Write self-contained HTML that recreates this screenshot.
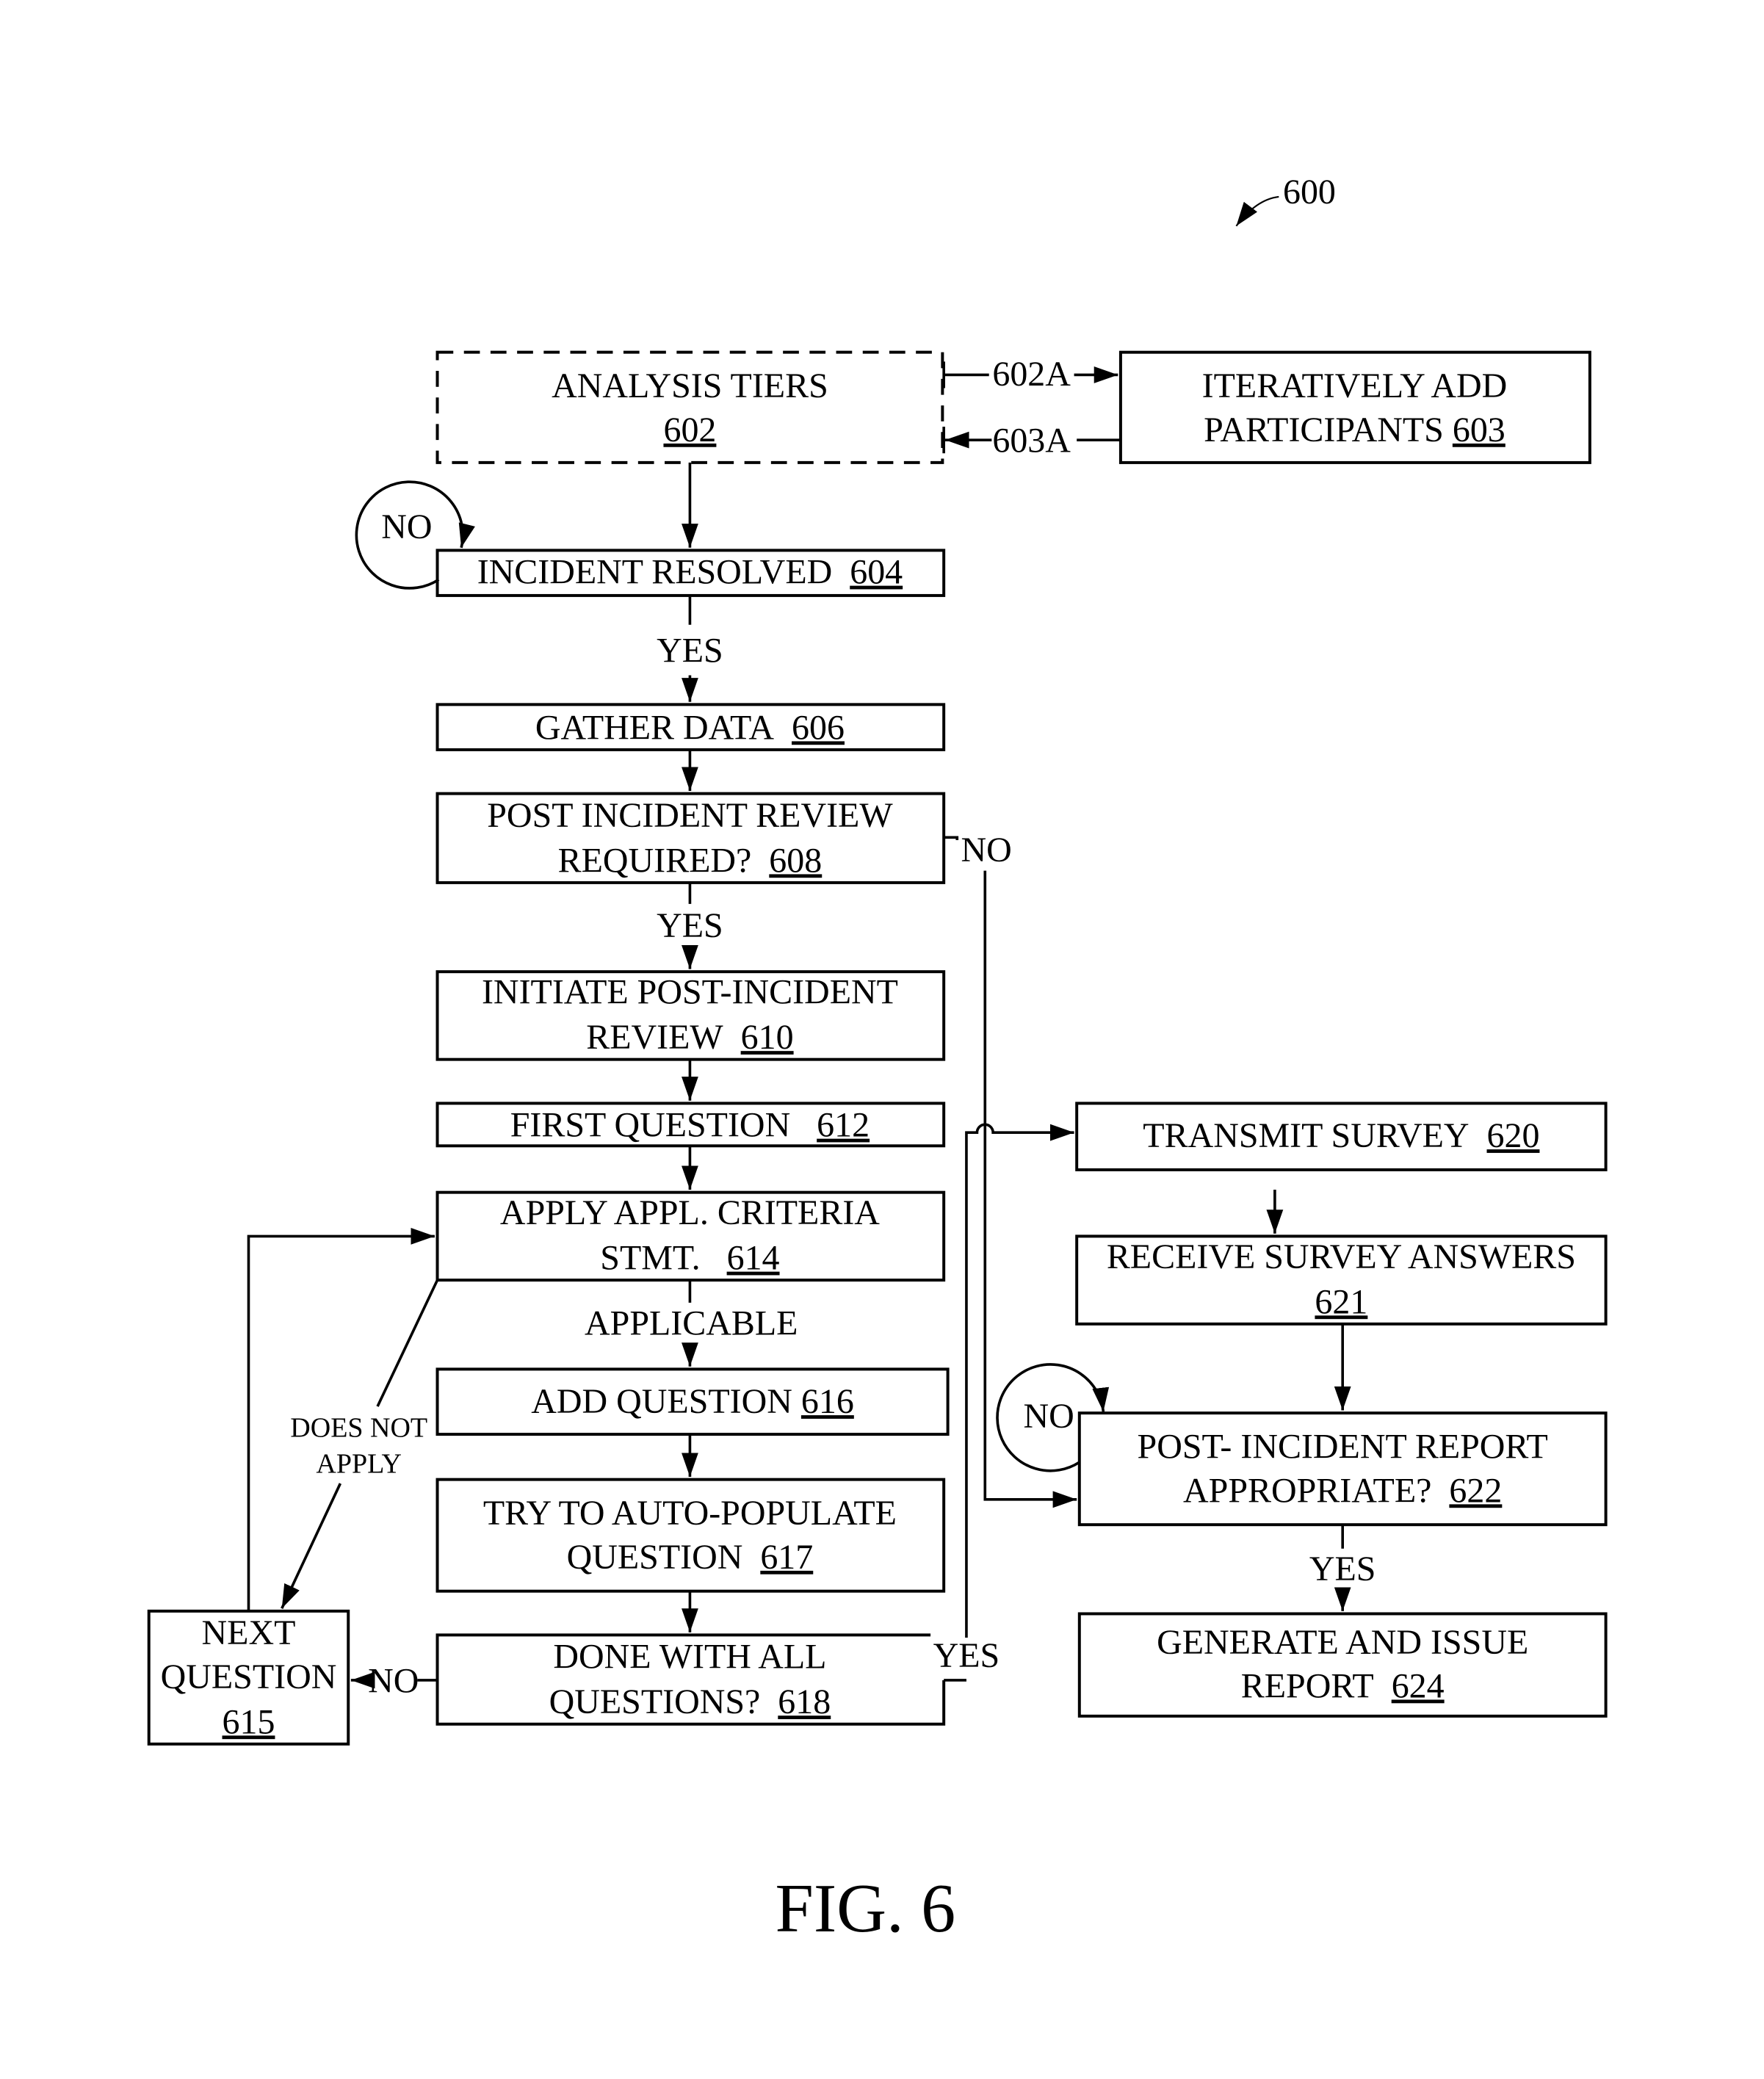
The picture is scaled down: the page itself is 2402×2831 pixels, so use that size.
<!DOCTYPE html>
<html><head><meta charset="utf-8"><style>
html,body{margin:0;padding:0;background:#fff;}
svg{display:block;}
text{font-family:"Liberation Serif",serif;font-size:26.5px;fill:#000;}
</style></head><body>
<svg width="2402" height="2831" viewBox="0 0 1327 1564" preserveAspectRatio="none" xmlns="http://www.w3.org/2000/svg">
<defs>
<marker id="b" viewBox="0 0 10 10" refX="10" refY="5" markerWidth="18" markerHeight="18" markerUnits="userSpaceOnUse" orient="auto"><path d="M0,1.5L10,5L0,8.5z" fill="#000"/></marker>
</defs>
<g fill="none" stroke="#000" stroke-width="2.2">
<rect x="329" y="265" width="380" height="83" stroke-dasharray="12,8"/>
<rect x="843" y="265" width="353" height="83"/>
<rect x="329" y="414" width="381" height="34"/>
<rect x="329" y="530" width="381" height="34"/>
<rect x="329" y="597" width="381" height="67"/>
<rect x="329" y="731" width="381" height="66"/>
<rect x="329" y="830" width="381" height="32"/>
<rect x="329" y="897" width="381" height="66"/>
<rect x="329" y="1030" width="384" height="49"/>
<rect x="329" y="1113" width="381" height="84"/>
<path d="M700,1230H329V1297H710V1264"/>
<rect x="112" y="1212" width="150" height="100"/>
<rect x="810" y="830" width="398" height="50"/>
<rect x="810" y="930" width="398" height="66"/>
<rect x="812" y="1063" width="396" height="84"/>
<rect x="812" y="1214" width="396" height="77"/>
</g>
<g fill="none" stroke="#000" stroke-width="2">
<path d="M710,272V292M710,282H744"/><path d="M808,282H841" marker-end="url(#b)"/>
<path d="M710,321V341"/><path d="M843,331H810"/><path d="M746,331H711" marker-end="url(#b)"/>
<path d="M519,348V412" marker-end="url(#b)"/>
<path d="M330,436A40,40 0 1 1 347,412" marker-end="url(#b)"/>
<path d="M519,449V470"/><path d="M519,508V528" marker-end="url(#b)"/>
<path d="M519,564V595" marker-end="url(#b)"/>
<path d="M519,664V680"/><path d="M519,712V729" marker-end="url(#b)"/>
<path d="M519,797V828" marker-end="url(#b)"/>
<path d="M519,862V895" marker-end="url(#b)"/>
<path d="M519,963V980"/><path d="M519,1012V1028" marker-end="url(#b)"/>
<path d="M519,1079V1111" marker-end="url(#b)"/>
<path d="M519,1197V1228" marker-end="url(#b)"/>
<path d="M711,630H720V632"/><path d="M741,655V1128H810" marker-end="url(#b)"/>
<path d="M710,1264H727"/><path d="M727,1232V852H735A6,6 0 0 1 747,852H808" marker-end="url(#b)"/>
<path d="M329,1264H314"/><path d="M278,1264H264" marker-end="url(#b)"/>
<path d="M187,1212V930H327" marker-end="url(#b)"/>
<path d="M329,963L284,1058"/><path d="M256,1116L212,1210" marker-end="url(#b)"/>
<path d="M959,895V928" marker-end="url(#b)"/>
<path d="M1010,996V1061" marker-end="url(#b)"/>
<path d="M812,1100A40,40 0 1 1 830,1062" marker-end="url(#b)"/>
<path d="M1010,1147V1165"/><path d="M1010,1195V1212" marker-end="url(#b)"/>
<path d="M962,148Q945,150 930,170" stroke-width="1.2" marker-end="url(#b)"/>
</g>
<g text-anchor="middle">
<text x="519" y="299">ANALYSIS TIERS</text><text x="519" y="332" text-decoration="underline">602</text>
<text x="1019" y="299">ITERATIVELY ADD</text><text x="1019" y="332">PARTICIPANTS <tspan text-decoration="underline">603</tspan></text>
<text x="776" y="290">602A</text><text x="776" y="340">603A</text>
<text x="306" y="405">NO</text>
<text x="519" y="439">INCIDENT RESOLVED&#160;&#160;<tspan text-decoration="underline">604</tspan></text>
<text x="519" y="498">YES</text>
<text x="519" y="556">GATHER DATA&#160;&#160;<tspan text-decoration="underline">606</tspan></text>
<text x="519" y="622">POST INCIDENT REVIEW</text><text x="519" y="656">REQUIRED?&#160;&#160;<tspan text-decoration="underline">608</tspan></text>
<text x="742" y="648">NO</text>
<text x="519" y="705">YES</text>
<text x="519" y="755">INITIATE POST-INCIDENT</text><text x="519" y="789">REVIEW&#160;&#160;<tspan text-decoration="underline">610</tspan></text>
<text x="519" y="855">FIRST QUESTION&#160;&#160;&#160;<tspan text-decoration="underline">612</tspan></text>
<text x="519" y="921">APPLY APPL. CRITERIA</text><text x="519" y="955">STMT.&#160;&#160;&#160;<tspan text-decoration="underline">614</tspan></text>
<text x="520" y="1004">APPLICABLE</text>
<text x="521" y="1063">ADD QUESTION <tspan text-decoration="underline">616</tspan></text>
<text x="519" y="1147">TRY TO AUTO-POPULATE</text><text x="519" y="1180">QUESTION&#160;&#160;<tspan text-decoration="underline">617</tspan></text>
<text x="519" y="1255">DONE WITH ALL</text><text x="519" y="1289">QUESTIONS?&#160;&#160;<tspan text-decoration="underline">618</tspan></text>
<text x="727" y="1254">YES</text>
<text x="296" y="1273">NO</text>
<text x="187" y="1237">NEXT</text><text x="187" y="1270">QUESTION</text><text x="187" y="1304" text-decoration="underline">615</text>
<text x="270" y="1081" style="font-size:21px">DOES NOT</text><text x="270" y="1108" style="font-size:21px">APPLY</text>
<text x="1009" y="863">TRANSMIT SURVEY&#160;&#160;<tspan text-decoration="underline">620</tspan></text>
<text x="1009" y="954">RECEIVE SURVEY ANSWERS</text><text x="1009" y="988" text-decoration="underline">621</text>
<text x="789" y="1074">NO</text>
<text x="1010" y="1097">POST- INCIDENT REPORT</text><text x="1010" y="1130">APPROPRIATE?&#160;&#160;<tspan text-decoration="underline">622</tspan></text>
<text x="1010" y="1189">YES</text>
<text x="1010" y="1244">GENERATE AND ISSUE</text><text x="1010" y="1277">REPORT&#160;&#160;<tspan text-decoration="underline">624</tspan></text>
<text x="985" y="153">600</text>
<text x="651" y="1453" style="font-size:52px">FIG. 6</text>
</g>
</svg>
</body></html>
